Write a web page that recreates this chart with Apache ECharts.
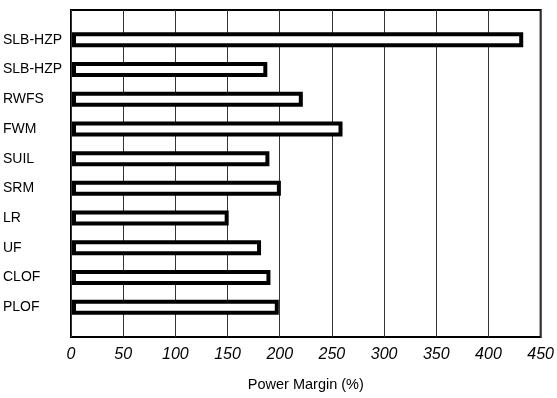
<!DOCTYPE html>
<html>
<head>
<meta charset="utf-8">
<script src="https://cdn.jsdelivr.net/npm/echarts@6/dist/echarts.min.js"></script>
<style>
  html, body { margin: 0; padding: 0; background: #fff; }
  #chart { width: 557px; height: 398px; }
</style>
</head>
<body>
<div id="chart"></div>
<script>
// categories top to bottom
const categories = ['SLB-HZP', 'SLB-HZP', 'RWFS', 'FWM', 'SUIL', 'SRM', 'LR', 'UF', 'CLOF', 'PLOF']
const margins = [432, 187, 221, 259, 189, 200, 150, 181, 190, 198]
const xTicks = [0, 50, 100, 150, 200, 250, 300, 350, 400, 450]

const font = 'Liberation Sans, Arial, sans-serif'

let chart = echarts.init(document.getElementById('chart'))

let option = {
    animation: false,
    grid: [
        {
            // frame + x axis
            left: 71,
            right: 15,
            top: 10,
            bottom: 61,
            show: true,
            borderColor: '#000',
            borderWidth: 2,
            backgroundColor: 'transparent'
        },
        {
            // bars, half a slot of padding top and bottom
            left: 71,
            right: 15,
            top: 25,
            bottom: 76
        }
    ],
    xAxis: [
        {
            gridIndex: 0,
            type: 'value',
            min: xTicks[0],
            max: xTicks[xTicks.length - 1],
            interval: 50,
            name: 'Power Margin (%)',
            nameLocation: 'middle',
            nameGap: 40,
            nameTextStyle: {
                color: '#000',
                fontSize: 14.5,
                fontFamily: font
            },
            axisLine: { show: false },
            axisTick: { show: false },
            axisLabel: {
                color: '#000',
                fontSize: 16,
                fontStyle: 'italic',
                fontFamily: font,
                margin: 10
            },
            splitLine: {
                show: true,
                lineStyle: { color: '#333', width: 1 }
            }
        },
        {
            gridIndex: 1,
            type: 'value',
            min: 0,
            max: 450,
            show: false
        }
    ],
    yAxis: [
        {
            gridIndex: 0,
            type: 'value',
            show: false
        },
        {
            gridIndex: 1,
            type: 'category',
            inverse: true,
            data: categories,
            axisLine: { show: false },
            axisTick: { show: false },
            axisLabel: {
                color: '#000',
                fontSize: 14,
                fontFamily: font,
                align: 'left',
                margin: 69
            }
        }
    ],
    series: [
        {
            type: 'bar',
            xAxisIndex: 1,
            yAxisIndex: 1,
            data: margins,
            barWidth: 15,
            itemStyle: {
                color: '#fff',
                borderColor: '#000',
                borderWidth: 4
            }
        }
    ]
}

chart.setOption(option)
</script>
</body>
</html>
